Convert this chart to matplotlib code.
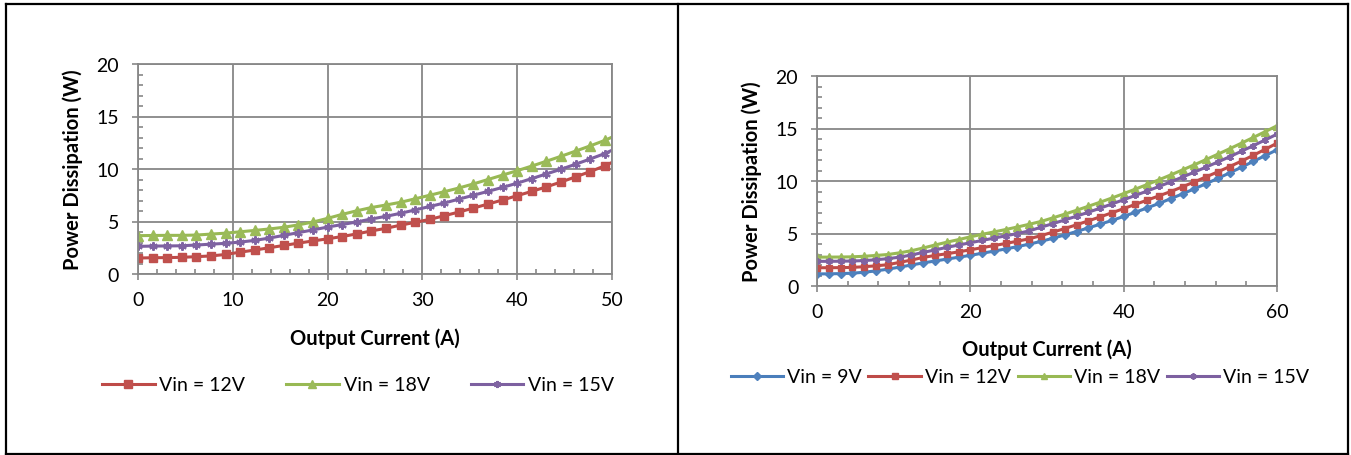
import matplotlib
matplotlib.use("Agg")
import matplotlib.pyplot as plt
from matplotlib.lines import Line2D
from matplotlib.ticker import MultipleLocator

plt.rcParams['font.family'] = ['Lato', 'DejaVu Sans']

# output current sampling (A), same for both boards
current = [0.0, 1.54, 3.08, 4.62, 6.15, 7.69, 9.23, 10.77, 12.31, 13.85,
           15.38, 16.92, 18.46, 20.0, 21.54, 23.08, 24.62, 26.15, 27.69, 29.23,
           30.77, 32.31, 33.85, 35.38, 36.92, 38.46, 40.0, 41.54, 43.08, 44.62,
           46.15, 47.69, 49.23, 50.77, 52.31, 53.85, 55.38, 56.92, 58.46, 60.0]

# left chart (50 A part), Power Dissipation (W)
left_12v = [1.52, 1.55, 1.56, 1.59, 1.65, 1.72, 1.86, 2.08, 2.28, 2.5,
            2.72, 2.94, 3.15, 3.35, 3.57, 3.82, 4.1, 4.35, 4.65, 4.92,
            5.2, 5.55, 5.9, 6.28, 6.66, 7.05, 7.46, 7.87, 8.3, 8.76,
            9.25, 9.75, 10.3, 10.95]
left_18v = [3.65, 3.67, 3.68, 3.68, 3.71, 3.8, 3.89, 4.02, 4.15, 4.29,
            4.45, 4.68, 4.95, 5.3, 5.68, 6.02, 6.33, 6.57, 6.83, 7.16,
            7.5, 7.84, 8.19, 8.58, 9.0, 9.42, 9.84, 10.28, 10.74, 11.21,
            11.7, 12.2, 12.72, 13.35]
left_15v = [2.63, 2.66, 2.67, 2.69, 2.76, 2.84, 2.92, 3.04, 3.2, 3.42,
            3.68, 3.94, 4.2, 4.47, 4.71, 4.96, 5.24, 5.49, 5.78, 6.1,
            6.43, 6.76, 7.13, 7.5, 7.87, 8.25, 8.65, 9.09, 9.53, 9.98,
            10.45, 10.95, 11.47, 12.1]

# right chart (60 A part)
right_9v = [1.15, 1.16, 1.18, 1.22, 1.31, 1.44, 1.6, 1.8, 2.0, 2.2,
            2.38, 2.56, 2.74, 2.92, 3.12, 3.32, 3.53, 3.75, 3.99, 4.25,
            4.55, 4.86, 5.19, 5.53, 5.88, 6.24, 6.63, 7.03, 7.44, 7.87,
            8.32, 8.78, 9.26, 9.75, 10.26, 10.78, 11.32, 11.87, 12.42, 12.97]
right_12v = [1.74, 1.74, 1.75, 1.77, 1.84, 1.92, 2.03, 2.25, 2.47, 2.72,
             2.91, 3.07, 3.25, 3.45, 3.65, 3.85, 4.05, 4.27, 4.5, 4.8,
             5.13, 5.47, 5.83, 6.2, 6.58, 6.97, 7.37, 7.78, 8.18, 8.59,
             9.0, 9.45, 9.92, 10.4, 10.88, 11.38, 11.9, 12.45, 13.02, 13.6]
right_18v = [2.75, 2.75, 2.76, 2.78, 2.83, 2.91, 3.0, 3.16, 3.36, 3.62,
             3.9, 4.17, 4.42, 4.68, 4.92, 5.15, 5.38, 5.62, 5.88, 6.15,
             6.49, 6.84, 7.21, 7.59, 7.98, 8.38, 8.8, 9.23, 9.67, 10.12,
             10.58, 11.06, 11.55, 12.05, 12.56, 13.08, 13.61, 14.15, 14.7, 15.26]
right_15v = [2.35, 2.35, 2.36, 2.38, 2.42, 2.5, 2.6, 2.75, 2.95, 3.2,
             3.43, 3.68, 3.9, 4.12, 4.34, 4.56, 4.78, 5.0, 5.25, 5.6,
             5.94, 6.29, 6.65, 7.02, 7.41, 7.81, 8.22, 8.63, 9.05, 9.48,
             9.92, 10.38, 10.85, 11.33, 11.82, 12.32, 12.84, 13.37, 13.91, 14.46]

BLUE = '#4A7EBB'
RED = '#BE4B48'
GREEN = '#98B954'
PURPLE = '#7D60A0'
GRID = '#878787'

fig = plt.figure(figsize=(13.51, 4.56), dpi=100)


def style_axes(ax, xmax, xmajor, xminor, xpad):
    ax.set_xlim(0, xmax)
    ax.set_ylim(0, 20)
    ax.xaxis.set_major_locator(MultipleLocator(xmajor))
    ax.xaxis.set_minor_locator(MultipleLocator(xminor))
    ax.yaxis.set_major_locator(MultipleLocator(5))
    ax.yaxis.set_minor_locator(MultipleLocator(1))
    ax.grid(True, which='major', color=GRID, lw=1.3)
    ax.set_axisbelow(True)
    for s in ax.spines.values():
        s.set_color(GRID)
        s.set_linewidth(1.3)
    ax.tick_params(which='major', direction='out', length=4.5, width=1.2,
                   color=GRID, labelsize=14)
    ax.tick_params(which='minor', direction='in', length=3.5, width=1.2,
                   color=GRID)
    ax.tick_params(axis='y', which='major', pad=9)
    ax.tick_params(axis='x', which='major', pad=8)
    ax.set_xlabel('Output Current (A)', fontsize=14.5, fontweight='bold',
                  labelpad=xpad)
    ax.set_ylabel('Power Dissipation (W)', fontsize=14.5, fontweight='bold',
                  labelpad=10)


# left board
ax1 = fig.add_axes([138 / 1351, 1 - 275 / 456, 474 / 1351, 210 / 456])
n = len(left_12v)
ax1.plot(current[:n], left_12v, color=RED, lw=2.2, marker='s', ms=6,
         mfc='#C0504D', mec='#C0504D', label='Vin = 12V')
ax1.plot(current[:n], left_18v, color=GREEN, lw=2.2, marker='^', ms=6.5,
         mfc='#9BBB59', mec='#9BBB59', label='Vin = 18V')
ax1.plot(current[:n], left_15v, color=PURPLE, lw=2.2, marker=(6, 2, 0), ms=6,
         mew=1.5, mec='#8064A2', label='Vin = 15V')
style_axes(ax1, 50, 10, 2, 14)
ax1.legend(loc='center', bbox_to_anchor=(358 / 1351, 1 - 386 / 456),
           bbox_transform=fig.transFigure, ncol=3, frameon=False, fontsize=14,
           handlelength=2.7, handletextpad=0.25, columnspacing=2.1,
           numpoints=1, markerscale=0.85)

# right board
ax2 = fig.add_axes([817 / 1351, 1 - 287 / 456, 460 / 1351, 210 / 456])
ax2.plot(current, right_9v, color=BLUE, lw=2.2, marker='D', ms=4,
         mfc='#4F81BD', mec='#4F81BD', label='Vin = 9V')
ax2.plot(current, right_12v, color=RED, lw=2.2, marker='s', ms=5,
         mfc='#C0504D', mec='#C0504D', label='Vin = 12V')
ax2.plot(current, right_18v, color=GREEN, lw=2.2, marker='^', ms=5.5,
         mfc='#9BBB59', mec='#9BBB59', label='Vin = 18V')
ax2.plot(current, right_15v, color=PURPLE, lw=2.2, marker=(6, 2, 0), ms=5,
         mew=1.4, mec='#8064A2', label='Vin = 15V')
style_axes(ax2, 60, 20, 4, 13)
ax2.legend(loc='center', bbox_to_anchor=(1020 / 1351, 1 - 378 / 456),
           bbox_transform=fig.transFigure, ncol=4, frameon=False, fontsize=14,
           handlelength=2.7, handletextpad=0.2, columnspacing=0.35,
           numpoints=1, markerscale=0.9)

# table border around the two charts
W, H = 1351, 456
for (x0, y0, x1, y1) in [(6, 5, 1348, 5), (6, 455, 1348, 455), (6, 5, 6, 455),
                         (1348, 5, 1348, 455), (678, 5, 678, 455)]:
    fig.add_artist(Line2D([x0 / W, x1 / W], [1 - y0 / H, 1 - y1 / H],
                          color='black', lw=1.6))

fig.savefig('out.png', dpi=100)
